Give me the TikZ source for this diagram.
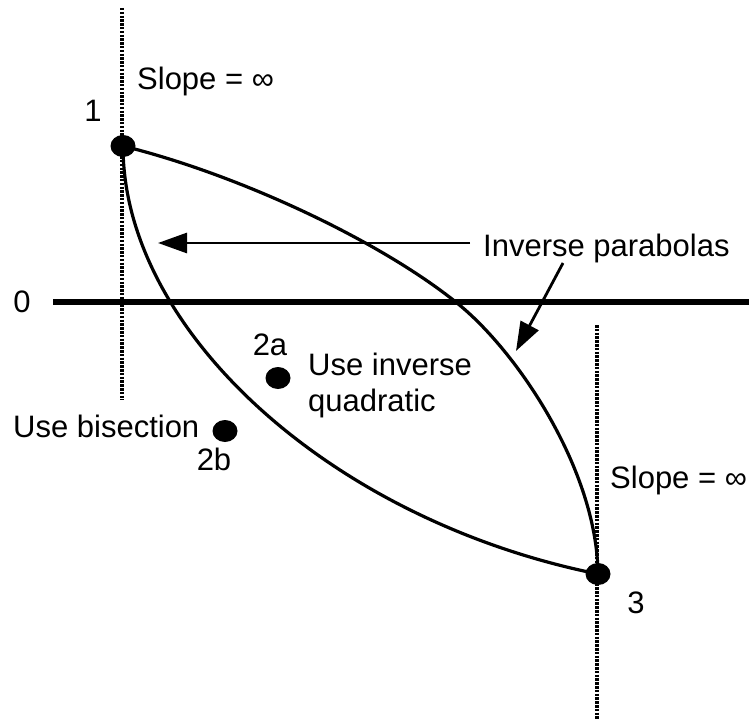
\documentclass[tikz,border=0pt]{standalone}
\usepackage{fontspec}
\setmainfont{Liberation Sans}
\usetikzlibrary{arrows.meta,shapes.geometric}
\begin{document}
\begin{tikzpicture}[x=1pt,y=-1pt,
  dot/.style={ellipse,fill=black,inner sep=0pt,minimum width=25pt,minimum height=22pt},
  lbl/.style={font=\fontsize{31}{36}\selectfont,inner sep=0pt},
  curve/.style={line width=3.2pt,line join=round},
  axisline/.style={line width=6pt},
  guide/.style={line width=3.2pt,dash pattern=on 2.5pt off 1.3pt},
  pointer/.style={line width=2.8pt,-{Triangle[length=29pt,width=20pt]}}]
\useasboundingbox (0,0) rectangle (749,719);
% guides and axis
\coordinate (g1t) at (122,8);
\coordinate (g1b) at (122,400);
\coordinate (g3t) at (597,325);
\coordinate (g3b) at (597,719);
\draw[guide] (g1t) -- (g1b);
\draw[guide] (g3t) -- (g3b);
\coordinate (axl) at (53,302);
\coordinate (axr) at (749,302);
\draw[axisline] (axl) -- (axr);
% points
\node[dot] (p1) at (123,146) {};
\node[dot] (p3) at (598,574) {};
\node[dot] (p2a) at (278,378) {};
\node[dot] (p2b) at (225,431) {};
% curves (inverse parabolas)
\coordinate (um) at (457,303);
\draw[curve] (p1.center) .. controls (240,175) and (380,241) .. (um)
  .. controls (517,351) and (597,470) .. (p3.center);
\draw[curve] (p1.center) .. controls (123,330) and (330,520) .. (p3.center);
% labels
\node[lbl,anchor=base west] (s1) at (137,90) {Slope = ∞};
\node[lbl,anchor=base west] (s3) at (610,488) {Slope = ∞};
\node[lbl,anchor=base] (l1) at (93,122) {1};
\node[lbl,anchor=base] (l0) at (22,312) {0};
\node[lbl,anchor=base] (l3) at (636,613) {3};
\node[lbl,anchor=base] (l2a) at (270,355) {2a};
\node[lbl,anchor=base] (l2b) at (214,470) {2b};
\node[lbl,anchor=base west] (ui1) at (308,375) {Use inverse};
\node[lbl,anchor=base west] (ui2) at (308,411) {quadratic};
\node[lbl,anchor=base west] (ub) at (13,437) {Use bisection};
\node[lbl,anchor=base west] (ip) at (483,257) {Inverse parabolas};
% pointers
\coordinate (a1s) at (470,243);
\coordinate (a1e) at (158,243);
\draw[pointer] (a1s) -- (a1e);
\coordinate (a2s) at (563,263);
\coordinate (a2e) at (516,351);
\draw[pointer] (a2s) -- (a2e);
\end{tikzpicture}
\end{document}
